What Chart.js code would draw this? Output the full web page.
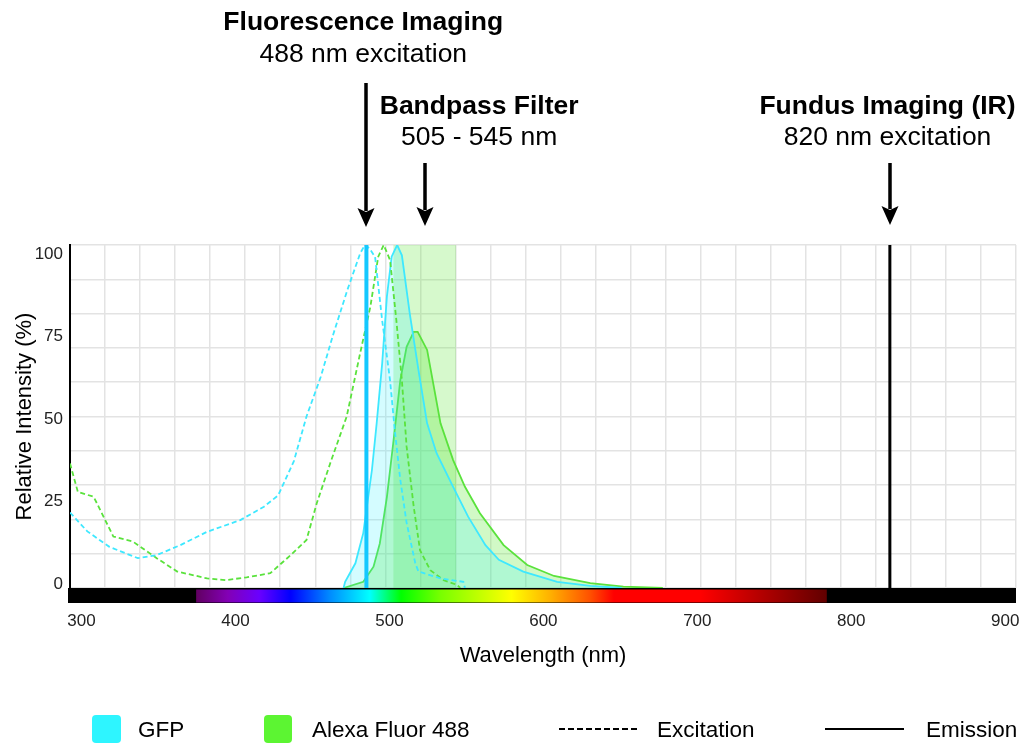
<!DOCTYPE html>
<html>
<head>
<meta charset="utf-8">
<title>GFP / Alexa Fluor 488 spectra</title>
<script src="https://cdn.jsdelivr.net/npm/chart.js"></script>
<style>
  html, body { margin: 0; padding: 0; background: #fff; }
  #wrap { width: 1024px; height: 746px; position: relative; }
</style>
</head>
<body>
<div id="wrap"><canvas id="spectraChart"></canvas></div>
<script>
// spectra: wavelength (nm) / relative intensity (%)
const gfpExNm  = [300, 311, 325, 343, 355, 370, 387, 408, 423, 432, 442, 450, 459, 467, 476, 484, 487, 490, 493.5, 498, 503, 506, 509.5, 513.5, 519, 521, 535, 549.5, 550.5];
const gfpExVal = [22, 16.5, 12, 8.7, 9.6, 12.5, 16.4, 19.8, 23.7, 27, 37, 50, 61.5, 74, 87, 97.5, 100, 99, 96.5, 78, 60.5, 46, 31.5, 19, 7.2, 4.8, 2.8, 1.8, 0];

const alexaExNm  = [300, 305, 315, 327.5, 340, 355, 368, 387, 399, 412, 427, 440, 450, 456.5, 465, 475.5, 484, 490.5, 495.5, 499, 503, 507, 510.5, 513.5, 518, 522, 528.5, 537, 545.5, 547.5];
const alexaExVal = [36.3, 28, 26.6, 15, 13.5, 8.7, 4.8, 2.8, 2.3, 3.1, 4.3, 9.6, 14, 24.7, 36.3, 50, 68.4, 82, 96.6, 100, 95.6, 78, 60.6, 41.2, 23.7, 11, 5.2, 2.3, 0.9, 0];

const gfpEmNm  = [473.5, 474.5, 481, 486, 491.5, 494.5, 498, 501, 504, 507.5, 510.5, 515.5, 521, 526.5, 532.5, 543, 552.5, 563.5, 572, 587.5, 609, 630, 650];
const gfpEmVal = [0, 1.8, 7.2, 16, 34.4, 48, 65.5, 85, 96.6, 100, 97, 80, 63.6, 48, 39.3, 29.5, 20.8, 12.5, 8.2, 4.8, 1.8, 0.6, 0];

const alexaEmNm  = [473.5, 486, 492.5, 496.5, 501, 505, 509.5, 513.5, 518, 520.5, 526.5, 535, 543, 550.5, 560, 575, 590, 607, 630, 651, 676];
const alexaEmVal = [0, 1.8, 6.2, 13, 26.6, 42.2, 60.6, 70.3, 74.7, 74.7, 69.4, 48, 37.3, 29.5, 21.8, 12.5, 6.7, 3.5, 1.4, 0.4, 0];

const filterNm = [505, 545];
const laserNm = [488, 820];

const xTickLabels = [300, 400, 500, 600, 700, 800, 900];
const yTickLabels = [0, 25, 50, 75, 100];
const legendNames = ['GFP', 'Alexa Fluor 488', 'Excitation', 'Emission'];

const CYAN = '#3ee8ff';
const GREEN = '#5ae23c';
const FONT = '"Liberation Sans", Arial, Helvetica, sans-serif';

// visible spectrum strip under the axis
const spectrumStops = [
  [380, 'rgb(97,0,97)'], [400, 'rgb(131,0,181)'], [420, 'rgb(106,0,255)'],
  [440, 'rgb(0,0,255)'], [465, 'rgb(0,140,255)'], [490, 'rgb(0,255,255)'],
  [510, 'rgb(0,255,0)'], [535, 'rgb(120,255,0)'], [580, 'rgb(255,255,0)'],
  [605, 'rgb(255,175,0)'], [630, 'rgb(255,80,0)'], [645, 'rgb(255,0,0)'],
  [700, 'rgb(255,0,0)'], [780, 'rgb(97,0,0)']
];

const callouts = [
  { at: 488, textAt: 486, title: 'Fluorescence Imaging', sub: '488 nm excitation', ty: 30, sy: 62, top: 83, tip: 227 },
  { at: 525, textAt: 559.5, title: 'Bandpass Filter', sub: '505 - 545 nm', ty: 114, sy: 145, top: 163, tip: 226 },
  { at: 820, textAt: 818.5, title: 'Fundus Imaging (IR)', sub: '820 nm excitation', ty: 114, sy: 145, top: 163, tip: 225 }
];

function pts(xs, ys) {
  return xs.map((x, i) => ({ x: x, y: ys[i] }));
}

const spectrumBar = {
  id: 'spectrumBar',
  afterDatasetsDraw(chart) {
    const ctx = chart.ctx, a = chart.chartArea, x = chart.scales.x;
    ctx.save();
    ctx.fillStyle = '#000';
    ctx.fillRect(a.left - 2, a.bottom, a.right - a.left + 2, 15);
    const x0 = x.getPixelForValue(380), x1 = x.getPixelForValue(780);
    const g = ctx.createLinearGradient(x0, 0, x1, 0);
    spectrumStops.forEach(s => g.addColorStop((s[0] - 380) / 400, s[1]));
    ctx.fillStyle = g;
    ctx.fillRect(x0, a.bottom + 1.5, x1 - x0, 13);
    ctx.restore();
  }
};

const calloutPlugin = {
  id: 'callouts',
  afterDraw(chart) {
    const ctx = chart.ctx, x = chart.scales.x;
    ctx.save();
    ctx.fillStyle = '#000';
    ctx.textAlign = 'center';
    ctx.textBaseline = 'alphabetic';
    callouts.forEach(c => {
      const tx = x.getPixelForValue(c.textAt);
      ctx.font = 'bold 26.5px ' + FONT;
      ctx.fillText(c.title, tx, c.ty);
      ctx.font = '26.5px ' + FONT;
      ctx.fillText(c.sub, tx, c.sy);
      const ax = Math.round(x.getPixelForValue(c.at));
      ctx.fillRect(ax - 1.75, c.top, 3.5, c.tip - c.top - 16);
      ctx.beginPath();
      ctx.moveTo(ax - 8.5, c.tip - 19);
      ctx.lineTo(ax, c.tip - 15);
      ctx.lineTo(ax + 8.5, c.tip - 19);
      ctx.lineTo(ax, c.tip);
      ctx.closePath();
      ctx.fill();
    });
    ctx.restore();
  }
};

const legendRow = {
  id: 'legendRow',
  afterDraw(chart) {
    const ctx = chart.ctx;
    ctx.save();
    ctx.font = '22.5px ' + FONT;
    ctx.textBaseline = 'alphabetic';
    ctx.textAlign = 'left';

    ctx.fillStyle = '#2ef5ff';
    ctx.beginPath(); ctx.roundRect(92, 715, 29, 28, 4); ctx.fill();
    ctx.fillStyle = '#5cf532';
    ctx.beginPath(); ctx.roundRect(264, 715, 28, 28, 4); ctx.fill();

    ctx.strokeStyle = '#000';
    ctx.lineWidth = 2;
    ctx.setLineDash([6, 3]);
    ctx.beginPath(); ctx.moveTo(559, 729); ctx.lineTo(640, 729); ctx.stroke();
    ctx.setLineDash([]);
    ctx.beginPath(); ctx.moveTo(825, 729); ctx.lineTo(904, 729); ctx.stroke();

    ctx.fillStyle = '#000';
    ctx.fillText(legendNames[0], 138, 737);
    ctx.fillText(legendNames[1], 312, 737);
    ctx.fillText(legendNames[2], 657, 737);
    ctx.fillText(legendNames[3], 926, 737);
    ctx.restore();
  }
};

const lineBase = { pointRadius: 0, tension: 0, borderWidth: 1.8 };

new Chart(document.getElementById('spectraChart'), {
  type: 'line',
  data: {
    datasets: [
      Object.assign({}, lineBase, {
        label: 'Fundus 820', data: pts([laserNm[1], laserNm[1]], [0, 100]),
        borderColor: '#000', borderWidth: 3, order: 1
      }),
      Object.assign({}, lineBase, {
        label: 'Laser 488', data: pts([laserNm[0], laserNm[0]], [0, 100]),
        borderColor: '#14c8ff', borderWidth: 4, order: 1
      }),
      Object.assign({}, lineBase, {
        label: 'GFP excitation', data: pts(gfpExNm, gfpExVal),
        borderColor: CYAN, borderDash: [5, 3], order: 2
      }),
      Object.assign({}, lineBase, {
        label: 'Alexa excitation', data: pts(alexaExNm, alexaExVal),
        borderColor: GREEN, borderDash: [5, 3], order: 2
      }),
      Object.assign({}, lineBase, {
        label: 'GFP emission', data: pts(gfpEmNm, gfpEmVal),
        borderColor: CYAN, backgroundColor: 'rgba(40,240,255,0.2)', fill: 'origin', order: 4
      }),
      Object.assign({}, lineBase, {
        label: 'Alexa emission', data: pts(alexaEmNm, alexaEmVal),
        borderColor: GREEN, backgroundColor: 'rgba(90,235,50,0.28)', fill: 'origin', order: 5
      }),
      Object.assign({}, lineBase, {
        label: 'Bandpass filter', data: pts(filterNm, [100, 100]),
        borderWidth: 0, borderColor: 'rgba(0,0,0,0)',
        backgroundColor: 'rgba(90,230,50,0.25)', fill: 'origin', order: 6
      })
    ]
  },
  options: {
    responsive: true,
    maintainAspectRatio: false,
    animation: false,
    layout: { padding: { top: 245, right: 8, bottom: 0, left: 0 } },
    plugins: { legend: { display: false }, tooltip: { enabled: false } },
    scales: {
      // data axes (hidden), mapped onto the plot area
      x: { type: 'linear', min: 300, max: 900, display: false },
      y: { type: 'linear', min: 0, max: 100, display: false },
      // axis labels and titles
      xl: {
        type: 'linear', min: 292.5, max: 907, position: 'bottom', weight: 1,
        grid: { display: false, drawTicks: false },
        border: { display: false },
        ticks: { color: '#222', font: { family: FONT, size: 17 }, padding: 23, maxRotation: 0, autoSkip: false },
        title: { display: true, text: 'Wavelength (nm)', color: '#000',
                 font: { family: FONT, size: 22 }, padding: { top: 0, bottom: 77 } },
        afterBuildTicks: s => { s.ticks = xTickLabels.map(v => ({ value: v })); },
        afterFit: s => { s.height = 158; s.paddingLeft = 0; s.paddingRight = 0; }
      },
      yl: {
        type: 'linear', min: -1.2, max: 102.7, position: 'left', weight: 1,
        grid: { display: false, drawTicks: false },
        border: { display: true, color: '#000', width: 2 },
        ticks: { color: '#222', font: { family: FONT, size: 17 }, padding: 7, autoSkip: false },
        title: { display: true, text: 'Relative Intensity (%)', color: '#000',
                 font: { family: FONT, size: 22 }, padding: { top: 12, bottom: 0 } },
        afterBuildTicks: s => { s.ticks = yTickLabels.map(v => ({ value: v })); },
        afterFit: s => { s.width = 70; s.paddingTop = 0; s.paddingBottom = 0; }
      },
      // background grid
      xg: {
        type: 'linear', min: 0, max: 27, position: 'bottom', weight: 0,
        ticks: { display: false, stepSize: 1 },
        grid: { color: '#e3e3e3', lineWidth: 1.5, drawTicks: false },
        border: { display: false },
        afterFit: s => { s.height = 0; }
      },
      yg: {
        type: 'linear', min: 0, max: 100, position: 'left', weight: 0,
        ticks: { display: false, stepSize: 10 },
        grid: { color: '#e3e3e3', lineWidth: 1.5, drawTicks: false },
        border: { display: false },
        afterFit: s => { s.width = 0; }
      }
    }
  },
  plugins: [spectrumBar, calloutPlugin, legendRow]
});
</script>
</body>
</html>
